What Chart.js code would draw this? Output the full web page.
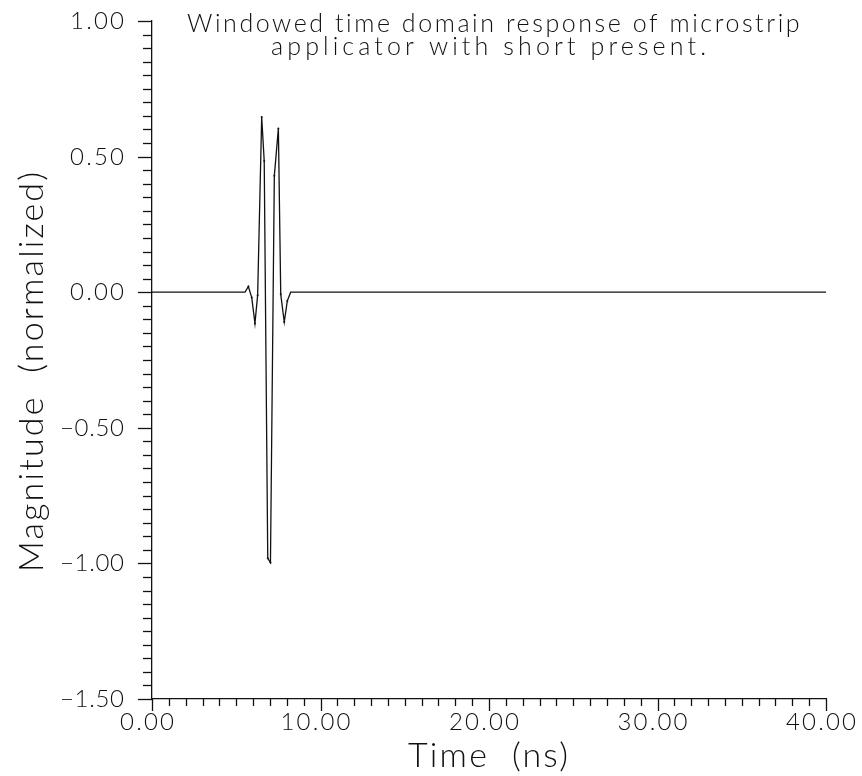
<!DOCTYPE html>
<html><head><meta charset="utf-8">
<script src="https://cdn.jsdelivr.net/npm/chart.js@4/dist/chart.umd.min.js"></script>
<style>html,body{margin:0;padding:0;background:#fff;}#wrap{width:862px;height:776px;position:relative;}</style>
</head><body><div id="wrap"><canvas id="c" width="862" height="776"></canvas></div>
<script>
// ---- data ----
const timeNs    = [0, 5.52, 5.72, 5.92, 6.11, 6.27, 6.51, 6.66, 6.87, 7.03, 7.26, 7.50, 7.64, 7.85, 8.03, 8.23, 40];
const magnitude = [0, 0, 0.021, -0.020, -0.115, -0.011, 0.646, 0.484, -0.981, -0.997, 0.429, 0.604, -0.008, -0.110, -0.032, 0, 0];
const xTickValues = [0, 10, 20, 30, 40];
const xTickLabels = ['0.00', '10.00', '20.00', '30.00', '40.00'];
const yTickValues = [1, 0.5, 0, -0.5, -1, -1.5];
const yTickLabels = ['1.00', '0.50', '0.00', '\u22120.50', '\u22121.00', '\u22121.50'];
const titleLines = ['Windowed time domain response of microstrip', 'applicator with short present.'];
const xTitle = 'Time  (ns)';
const yTitle = 'Magnitude  (normalized)';

const FONT = 'Lato, "DejaVu Sans", sans-serif';
const INK = '#111';

function drawFit(ctx, text, size, x0, y, targetW) {
  ctx.font = '300 ' + size + 'px ' + FONT;
  ctx.letterSpacing = '0px';
  const w = ctx.measureText(text).width;
  const n = [...text].length;
  const ls = (targetW - w) / (n - 1);
  ctx.letterSpacing = ls + 'px';
  ctx.textAlign = 'left';
  ctx.fillText(text, x0, y);
  ctx.letterSpacing = '0px';
}

const axisPlugin = {
  id: 'axisDecor',
  afterDraw(chart) {
    const ctx = chart.ctx;
    const xs = chart.scales.x, ys = chart.scales.y;
    const ca = chart.chartArea;
    ctx.save();
    ctx.strokeStyle = INK; ctx.fillStyle = INK; ctx.lineWidth = 1.3;
    // x ticks
    for (let v = xs.min; v <= xs.max + 1e-9; v += 1) {
      const px = Math.round(xs.getPixelForValue(v)) + 0.5;
      const major = Math.abs(v / 10 - Math.round(v / 10)) < 1e-6;
      ctx.beginPath(); ctx.moveTo(px, ca.bottom); ctx.lineTo(px, ca.bottom + (major ? 12 : 7)); ctx.stroke();
    }
    // y ticks
    for (let i = 0; i <= 50; i++) {
      const v = ys.min + i * 0.05;
      const py = Math.round(ys.getPixelForValue(v)) + 0.5;
      const major = i % 10 === 0;
      ctx.beginPath(); ctx.moveTo(ca.left, py); ctx.lineTo(ca.left - (major ? 14 : 9), py); ctx.stroke();
    }
    // x tick labels
    ctx.textBaseline = 'alphabetic';
    xTickValues.forEach((v, i) => {
      const t = xTickLabels[i];
      const w = t.length === 4 ? 54 : 70;
      const cx = xs.getPixelForValue(v) - 5;
      drawFit(ctx, t, 24, cx - w / 2, 730, w);
    });
    // y tick labels
    yTickValues.forEach((v, i) => {
      const t = yTickLabels[i];
      const w = t.length === 4 ? 54 : 64;
      const py = ys.getPixelForValue(v);
      drawFit(ctx, t, 24, 124 - w, py + 8, w);
    });
    // title
    drawFit(ctx, titleLines[0], 25, 187, 32, 613);
    drawFit(ctx, titleLines[1], 25, 271, 55, 435);
    // x title
    drawFit(ctx, xTitle, 34, 408, 767, 160);
    // y title
    ctx.save();
    ctx.translate(43, 572);
    ctx.rotate(-Math.PI / 2);
    drawFit(ctx, yTitle, 34, 0, 0, 400);
    ctx.restore();
    ctx.restore();
  }
};

new Chart(document.getElementById('c'), {
  type: 'line',
  data: {
    datasets: [{
      data: timeNs.map((t, i) => ({ x: t, y: magnitude[i] })),
      borderColor: INK, borderWidth: 1.3, tension: 0, fill: false,
      pointRadius: c => (c.dataIndex > 1 && c.dataIndex < timeNs.length - 2) ? 1 : 0,
      pointBackgroundColor: INK, pointBorderWidth: 0
    }]
  },
  options: {
    responsive: false, animation: false, events: [],
    layout: { padding: { left: 0, right: 36, top: 21, bottom: 0 } },
    plugins: { legend: { display: false }, tooltip: { enabled: false }, title: { display: false } },
    scales: {
      x: { type: 'linear', min: 0, max: 40, grid: { display: false },
           border: { display: true, color: INK, width: 1.3 }, ticks: { display: false },
           afterFit(s) { s.height = 77; } },
      y: { type: 'linear', min: -1.5, max: 1, grid: { display: false },
           border: { display: true, color: INK, width: 1.3 }, ticks: { display: false },
           afterFit(s) { s.width = 152; } }
    }
  },
  plugins: [axisPlugin]
});
</script></body></html>
